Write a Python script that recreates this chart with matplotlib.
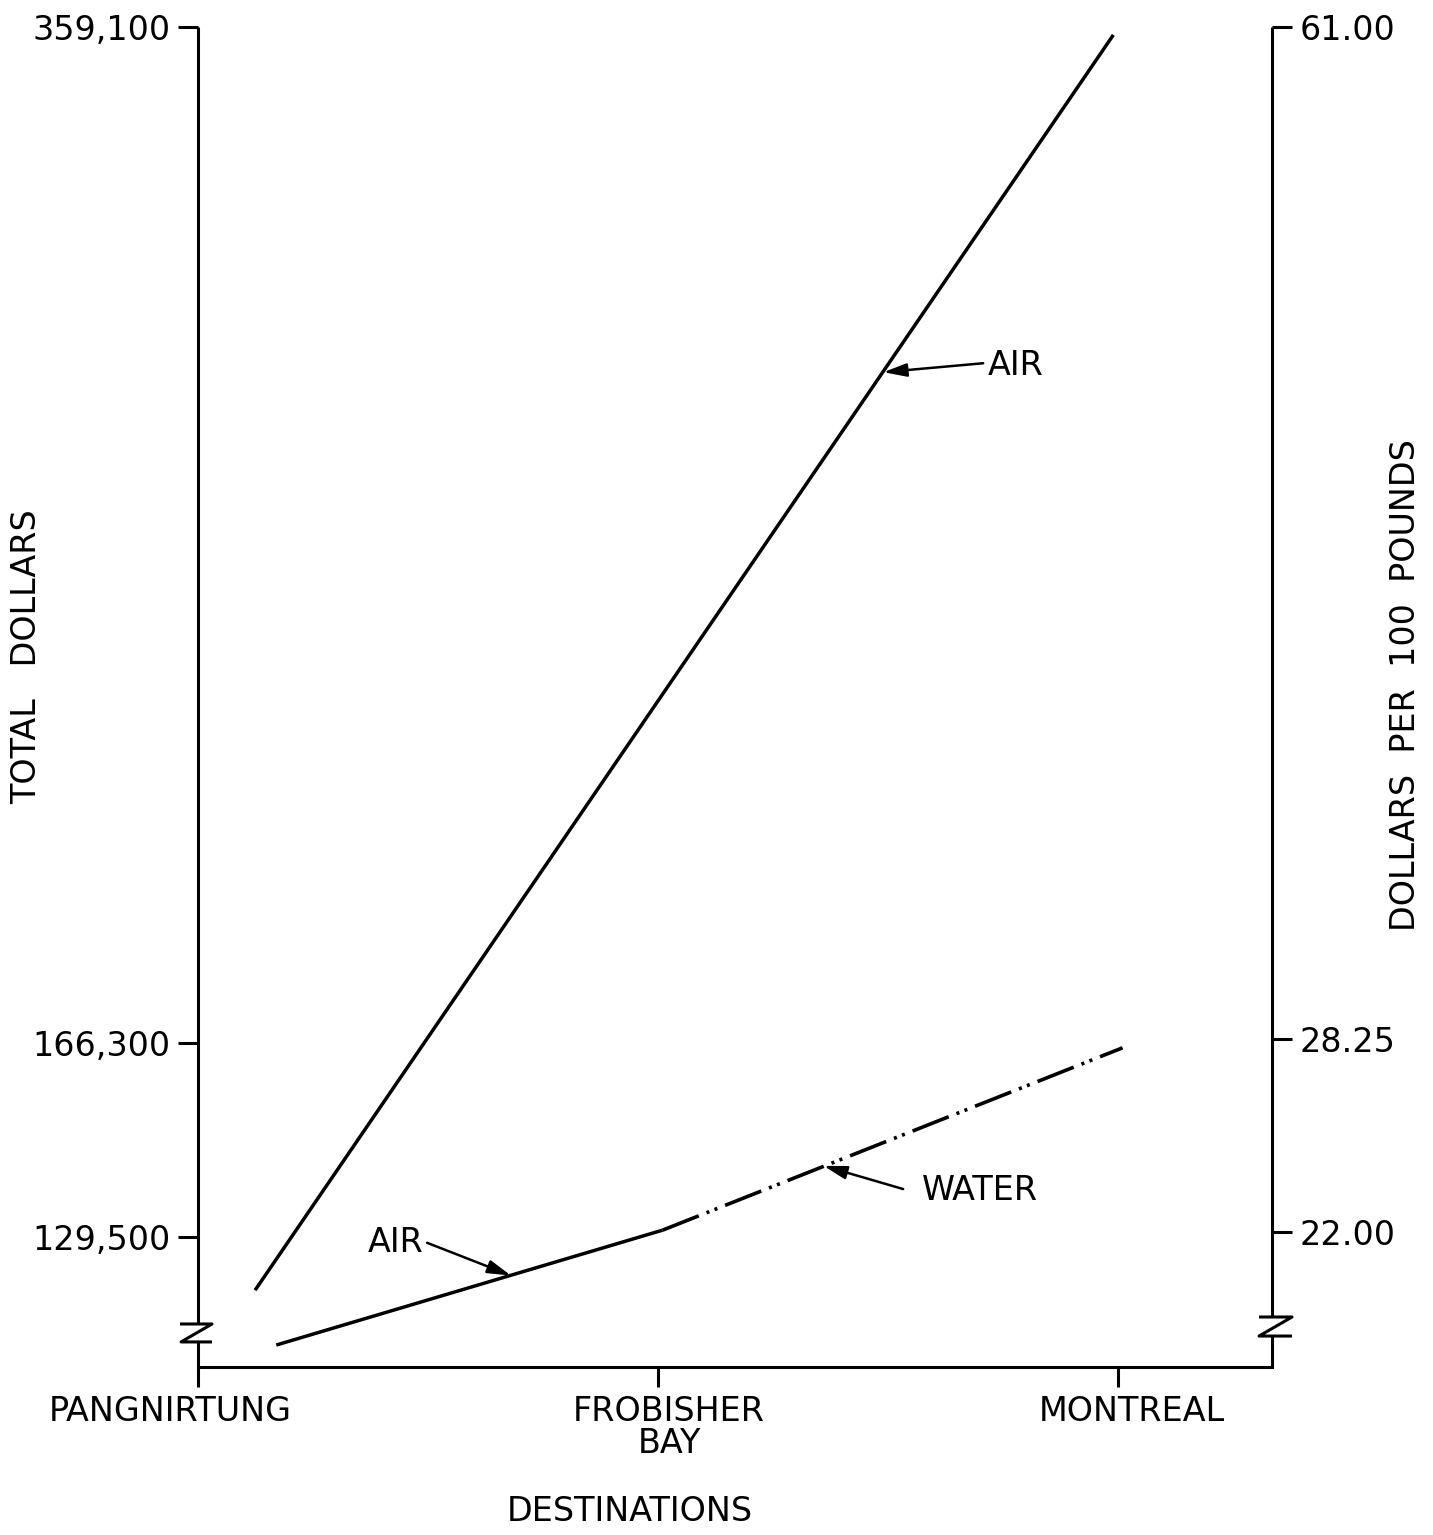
import matplotlib
matplotlib.use('Agg')
import matplotlib.pyplot as plt
from matplotlib.transforms import ScaledTranslation

# data (left axis = total dollars)
destinations = ['PANGNIRTUNG', 'FROBISHER\nBAY', 'MONTREAL']
dest_pos = [0, 1, 2]

air_total_x = [0.124, 1.99]
air_total = [119400, 357600]

air_x = [0.17, 1.01]
air = [109000, 130800]

water_x = [1.01, 2.01]
water = [130800, 165400]

left_ticks = [129500, 166300, 359100]
right_ticks = [22.00, 28.25, 61.00]

plt.rcParams['font.family'] = 'DejaVu Sans'
plt.rcParams['lines.scale_dashes'] = False
FS = 24
LW = 2.2

fig = plt.figure(figsize=(14.33, 15.35), dpi=100)
ax = fig.add_axes([0.1382, 0.10945, 0.74948, 0.87296])
ax2 = ax.twinx()

ax.set_xlim(0, 2.335)
ax.set_ylim(104835, 359100)
ax2.set_ylim(17.63, 61.0)

# lines
ax.plot(air_total_x, air_total, color='black', lw=2.5, solid_capstyle='butt')
ax.plot(air_x, air, color='black', lw=2.5, solid_capstyle='butt')
ax.plot(water_x, water, color='black', lw=2.6, dashes=(28, 6, 2.2, 4, 2.2, 6),
        dash_capstyle='butt')

# arrows + labels
arrow = dict(arrowstyle='-|>,head_length=0.7,head_width=0.2', color='black',
             lw=1.8, mutation_scale=20, shrinkA=0, shrinkB=0)
ax.annotate('', xy=(1.49, 293600), xytext=(1.707, 295300), arrowprops=arrow)
ax.text(1.717, 294800, 'AIR', fontsize=FS, ha='left', va='center')
ax.annotate('', xy=(0.68, 122200), xytext=(0.498, 128400), arrowprops=arrow)
ax.text(0.491, 128400, 'AIR', fontsize=FS, ha='right', va='center')
ax.annotate('', xy=(1.36, 143000), xytext=(1.533, 138600), arrowprops=arrow)
ax.text(1.574, 138240, 'WATER', fontsize=FS, ha='left', va='center')

# axes styling
for a in (ax, ax2):
    for s in ('top', 'left', 'right'):
        a.spines[s].set_visible(False)
ax2.spines['bottom'].set_visible(False)
ax.spines['bottom'].set_linewidth(LW)

ax.set_xticks(dest_pos)
ax.set_xticklabels(destinations, fontsize=FS)
ax.tick_params(axis='x', direction='out', length=14.5, width=LW, pad=6)
shifts = [-0.28, 0.11, 0.14]  # inches, lettering sits a bit off the ticks
for lab, dx in zip(ax.get_xticklabels(), shifts):
    lab.set_linespacing(0.95)
    lab.set_transform(lab.get_transform() + ScaledTranslation(dx, 0, fig.dpi_scale_trans))

ax.set_yticks(left_ticks)
ax.set_yticklabels([f'{v:,}' for v in left_ticks], fontsize=FS)
ax.tick_params(axis='y', direction='out', length=14.5, width=LW, pad=5)

ax2.set_yticks(right_ticks)
ax2.set_yticklabels([f'{v:.2f}' for v in right_ticks], fontsize=FS)
ax2.tick_params(axis='y', direction='out', length=14.5, width=LW, pad=5)

# vertical axis lines with break marks
kw = dict(color='black', lw=LW, transform=ax.transAxes, clip_on=False,
          solid_capstyle='butt')
ax.plot([0, 0], [1.0, 0.0321], **kw)
ax.plot([0, 0], [0.0187, 0.0], **kw)
ax.plot([-0.0168, 0.013, -0.0158, 0.013], [0.0321, 0.0321, 0.0187, 0.0187], **kw)
ax.plot([1, 1], [1.0, 0.0373], **kw)
ax.plot([1, 1], [0.0231, 0.0], **kw)
ax.plot([0.9879, 1.0186, 0.9879, 1.0186], [0.0373, 0.0373, 0.0231, 0.0231], **kw)

fig.text(0.0188, 0.572, 'TOTAL   DOLLARS', rotation=90, fontsize=FS,
         ha='center', va='center')
fig.text(0.9805, 0.5537, 'DOLLARS  PER  100  POUNDS', rotation=90, fontsize=FS,
         ha='center', va='center')
fig.text(0.4396, 0.015, 'DESTINATIONS', fontsize=FS, ha='center', va='center')

fig.savefig('out.png', dpi=100, facecolor='white')
